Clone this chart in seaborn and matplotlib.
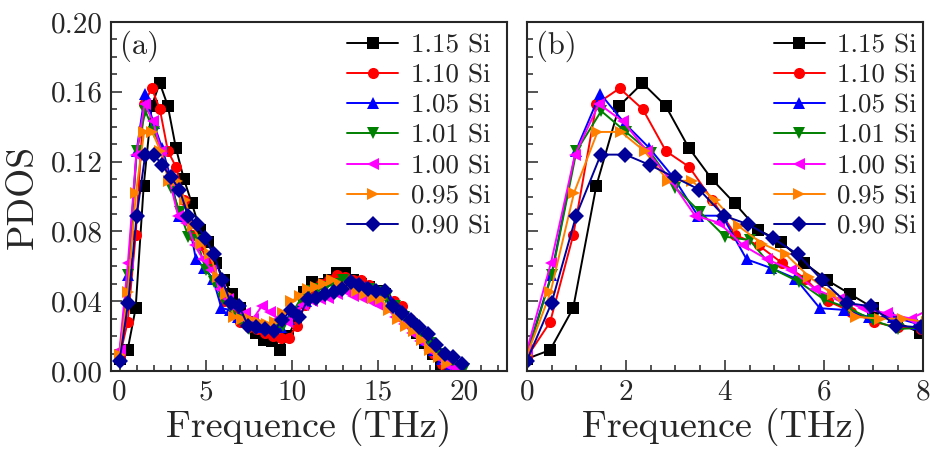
import numpy as np
import pandas as pd
import matplotlib
matplotlib.use("Agg")
import matplotlib.pyplot as plt
import matplotlib.ticker as ticker
import seaborn as sns

# ---- data (PDOS vs frequency, 41 points per curve) ----
labels = ["1.15 Si", "1.10 Si", "1.05 Si", "1.01 Si", "1.00 Si", "0.95 Si", "0.90 Si"]
colors = ["#000000", "#ff0000", "#0000ff", "#008000", "#ff00ff", "#ff8000", "#000099"]
markers = ["s", "o", "^", "v", "<", ">", "D"]
# frequency step (THz) of each curve
freq_step = [0.4667, 0.468, 0.493, 0.500, 0.485, 0.475, 0.497]

pdos_115 = [0.007, 0.012, 0.036, 0.106, 0.152, 0.165, 0.152, 0.128, 0.110, 0.096, 0.081,
            0.074, 0.062, 0.052, 0.044, 0.036, 0.028, 0.022, 0.018, 0.017, 0.012, 0.020,
            0.030, 0.045, 0.051, 0.050, 0.052, 0.056, 0.056, 0.052, 0.050, 0.048, 0.046,
            0.044, 0.038, 0.033, 0.028, 0.022, 0.016, 0.010, 0.004]
pdos_110 = [0.008, 0.028, 0.078, 0.153, 0.162, 0.150, 0.126, 0.117, 0.098, 0.078, 0.072,
            0.062, 0.053, 0.040, 0.034, 0.028, 0.025, 0.024, 0.022, 0.020, 0.019, 0.019,
            0.026, 0.038, 0.046, 0.050, 0.052, 0.055, 0.054, 0.052, 0.052, 0.049, 0.046,
            0.045, 0.040, 0.037, 0.030, 0.025, 0.018, 0.010, 0.004]
pdos_105 = [0.010, 0.055, 0.126, 0.159, 0.142, 0.128, 0.111, 0.089, 0.089, 0.064, 0.059,
            0.053, 0.036, 0.035, 0.031, 0.031, 0.027, 0.025, 0.027, 0.025, 0.030, 0.035,
            0.040, 0.043, 0.044, 0.046, 0.048, 0.050, 0.050, 0.048, 0.047, 0.045, 0.040,
            0.035, 0.030, 0.024, 0.018, 0.012, 0.007, 0.004, 0.002]
pdos_101 = [0.009, 0.055, 0.126, 0.149, 0.137, 0.125, 0.105, 0.091, 0.077, 0.075, 0.058,
            0.051, 0.041, 0.036, 0.029, 0.024, 0.025, 0.024, 0.024, 0.026, 0.033, 0.041,
            0.046, 0.047, 0.048, 0.050, 0.052, 0.047, 0.044, 0.047, 0.045, 0.042, 0.037,
            0.031, 0.027, 0.021, 0.016, 0.010, 0.006, 0.003, 0.001]
pdos_100 = [0.012, 0.062, 0.124, 0.153, 0.143, 0.126, 0.109, 0.089, 0.085, 0.072, 0.064,
            0.058, 0.047, 0.041, 0.036, 0.033, 0.030, 0.037, 0.034, 0.030, 0.028, 0.034,
            0.038, 0.040, 0.041, 0.042, 0.044, 0.046, 0.043, 0.042, 0.040, 0.038, 0.036,
            0.031, 0.027, 0.022, 0.017, 0.012, 0.008, 0.004, 0.002]
pdos_095 = [0.009, 0.045, 0.102, 0.137, 0.137, 0.126, 0.109, 0.109, 0.098, 0.083, 0.073,
            0.067, 0.054, 0.044, 0.031, 0.030, 0.030, 0.028, 0.027, 0.028, 0.033, 0.040,
            0.043, 0.047, 0.048, 0.050, 0.052, 0.050, 0.048, 0.046, 0.044, 0.042, 0.041,
            0.035, 0.030, 0.026, 0.023, 0.018, 0.012, 0.008, 0.004]
pdos_090 = [0.006, 0.039, 0.089, 0.124, 0.124, 0.118, 0.111, 0.104, 0.089, 0.084, 0.076,
            0.067, 0.052, 0.039, 0.037, 0.026, 0.025, 0.024, 0.023, 0.029, 0.035, 0.031,
            0.041, 0.042, 0.044, 0.045, 0.047, 0.051, 0.049, 0.047, 0.046, 0.046, 0.037,
            0.033, 0.029, 0.025, 0.021, 0.015, 0.010, 0.008, 0.004]
all_pdos = [pdos_115, pdos_110, pdos_105, pdos_101, pdos_100, pdos_095, pdos_090]

frames = []
for lab, step, vals in zip(labels, freq_step, all_pdos):
    frames.append(pd.DataFrame({"freq": np.arange(len(vals)) * step,
                                "pdos": vals, "sample": lab}))
df = pd.concat(frames, ignore_index=True)

sns.set_style("ticks")
plt.rcParams["font.family"] = ["cmr10", "DejaVu Serif"]
plt.rcParams["mathtext.fontset"] = "cm"
plt.rcParams["axes.formatter.use_mathtext"] = True
plt.rcParams["axes.linewidth"] = 1.5

fig = plt.figure(figsize=(9.42, 4.51), dpi=100)
ax1 = fig.add_axes([0.1178, 0.1774, 0.4204, 0.7738])
ax2 = fig.add_axes([0.5594, 0.1774, 0.4204, 0.7738])

pal = dict(zip(labels, colors))
mk = dict(zip(labels, markers))

for ax, anchor_x in ((ax1, 0.992), (ax2, 1.019)):
    sns.lineplot(data=df, x="freq", y="pdos", hue="sample", style="sample",
                 hue_order=labels, style_order=labels, palette=pal, markers=mk,
                 dashes=False, markersize=8, markeredgewidth=0, linewidth=1.4,
                 sort=False, ax=ax)
    ax.set_ylim(0, 0.20)
    ax.yaxis.set_major_locator(ticker.MultipleLocator(0.04))
    ax.yaxis.set_minor_locator(ticker.MultipleLocator(0.01))
    ax.yaxis.set_major_formatter(ticker.FormatStrFormatter("%.2f"))
    ax.tick_params(which="major", direction="in", length=8, width=1.1,
                   labelsize=21, pad=6, top=False, right=False)
    ax.tick_params(which="minor", direction="in", length=4.5, width=1.1,
                   top=False, right=False)
    ax.set_xlabel("Frequence (THz)", fontsize=27.5, labelpad=2)
    leg = ax.get_legend()
    handles = leg.legend_handles
    texts = [t.get_text() for t in leg.get_texts()]
    ax.legend(handles, texts, loc="upper right", frameon=False, fontsize=19.5,
              handlelength=1.9, handletextpad=0.45, labelspacing=0.23,
              borderaxespad=0.1, bbox_to_anchor=(anchor_x, 1.006))

ax1.set_xlim(-0.5, 22.5)
ax1.xaxis.set_major_locator(ticker.MultipleLocator(5))
ax1.xaxis.set_minor_locator(ticker.MultipleLocator(1))
ax1.xaxis.set_major_formatter(ticker.FormatStrFormatter("%d"))
ax1.set_ylabel("PDOS", fontsize=27, labelpad=8)
ax1.text(0.023, 0.93, "(a)", transform=ax1.transAxes, fontsize=22, va="center")

ax2.set_xlim(0, 8)
ax2.xaxis.set_major_locator(ticker.MultipleLocator(2))
ax2.xaxis.set_minor_locator(ticker.MultipleLocator(0.5))
ax2.xaxis.set_major_formatter(ticker.FormatStrFormatter("%d"))
ax2.set_ylabel("")
ax2.set_yticklabels([])
ax2.text(0.023, 0.93, "(b)", transform=ax2.transAxes, fontsize=22, va="center")

fig.savefig("out.png", dpi=100)
